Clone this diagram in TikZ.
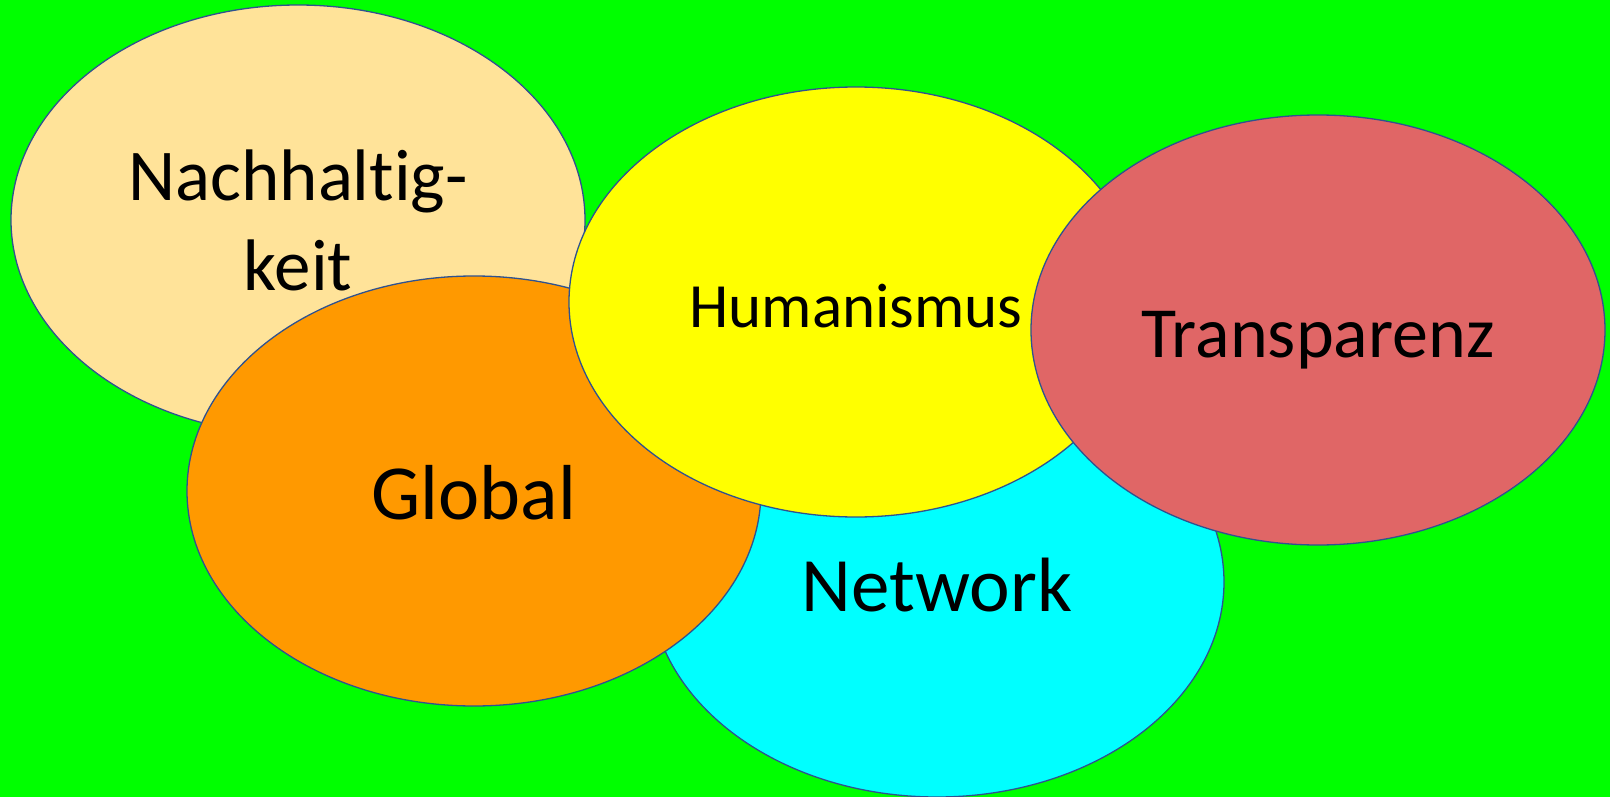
\documentclass[tikz,border=0pt]{standalone}
\usepackage{fontspec}
\setmainfont{Carlito}[Ligatures=NoCommon]
\usepackage{tikz}
\usetikzlibrary{shapes.geometric}
\definecolor{bggreen}{HTML}{00FF00}
\definecolor{rimblue}{HTML}{2F528F}
\definecolor{sand}{HTML}{FFE399}
\definecolor{orangeglobal}{HTML}{FF9900}
\definecolor{cyannet}{HTML}{00FFFF}
\definecolor{yellowhum}{HTML}{FFFF00}
\definecolor{rosered}{HTML}{E06666}
\tikzset{
	bubble/.style={ellipse, draw=rimblue, line width=1.3pt, minimum width=574pt, minimum height=430pt, inner sep=0pt, text=black, text depth=0pt},
}

\begin{document}
\begin{tikzpicture}[x=1pt, y=-1pt]
		%%%%% START %%%%%
		
		\fill[bggreen] (0, 0) rectangle (1610, 797);
		\useasboundingbox (0, 0) rectangle (1610, 797);
		
		\node[bubble, fill=sand, align=center, font=\fontsize{73}{90}\selectfont, text depth=] (nachhaltig) at (298, 220) {Nachhalt\kern0pt ig-\\keit};
		
		\node[bubble, fill=cyannet, font=\fontsize{77}{90}\selectfont, text height=58pt] (network) at (937, 582) {Network};
		
		\node[bubble, fill=orangeglobal, font=\fontsize{78}{90}\selectfont, text height=57pt] (global) at (474, 491) {Global};
		
		\node[bubble, fill=yellowhum, font=\fontsize{63}{80}\selectfont, text height=50pt] (human) at (856, 302) {Humanismus};
		
		\node[bubble, fill=rosered, font=\fontsize{72}{90}\selectfont, text height=54pt] (transparenz) at (1318, 330) {Transparenz};
		
		%%%%% END %%%%%
	\end{tikzpicture}
\end{document}
